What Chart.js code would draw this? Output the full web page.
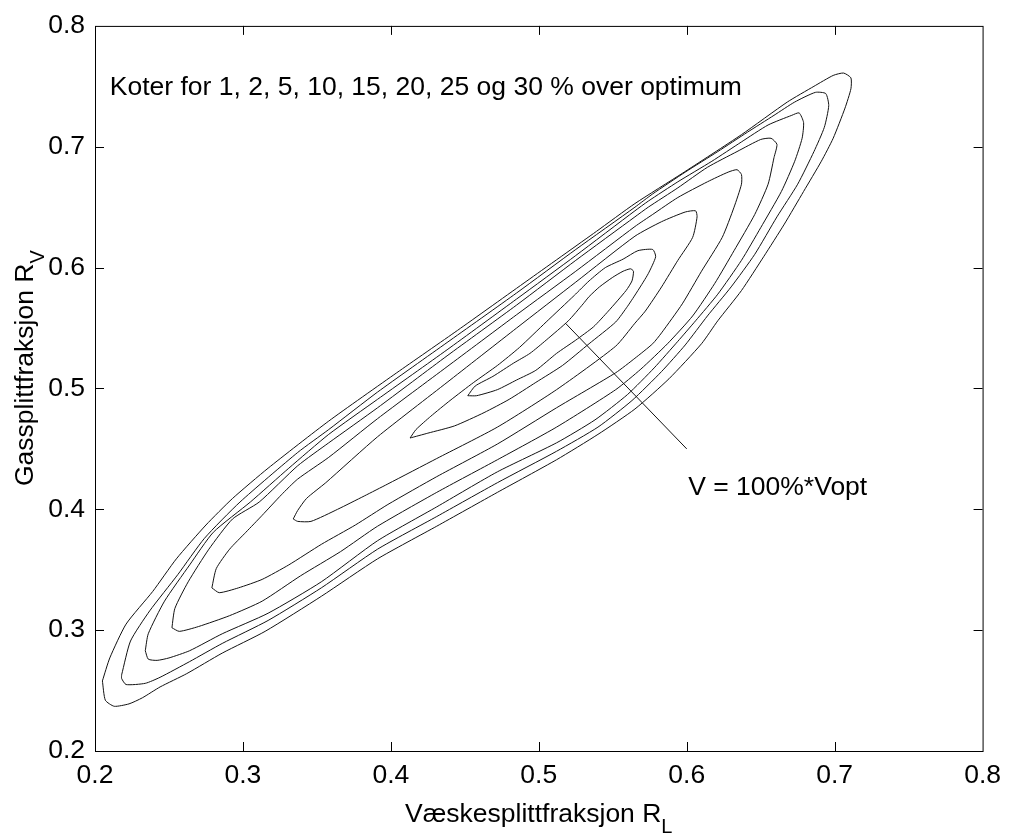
<!DOCTYPE html>
<html>
<head>
<meta charset="utf-8">
<script src="https://cdn.jsdelivr.net/npm/chart.js@4/dist/chart.umd.min.js"></script>
<style>
  body { margin: 0; background: #fff; }
  canvas { display: block; }
</style>
</head>
<body>
<canvas id="contours" width="1010" height="835"></canvas>
<script>
const xTicks = [0.2, 0.3, 0.4, 0.5, 0.6, 0.7, 0.8];
const xTickLabels = ['0.2', '0.3', '0.4', '0.5', '0.6', '0.7', '0.8'];
const yTicks = [0.2, 0.3, 0.4, 0.5, 0.6, 0.7, 0.8];
const yTickLabels = ['0.2', '0.3', '0.4', '0.5', '0.6', '0.7', '0.8'];

// contour levels, % over optimum volume
const levels = [1, 2, 5, 10, 15, 20, 25, 30];

// each contour as [R_L, R_V] points, closed loop
const kote1 = [
    [0.452, 0.494], [0.457, 0.502], [0.469, 0.510], [0.483, 0.521], [0.494, 0.529], [0.505, 0.540],
    [0.520, 0.556], [0.530, 0.570], [0.534, 0.576], [0.541, 0.584], [0.550, 0.592], [0.557, 0.597],
    [0.562, 0.599], [0.564, 0.597], [0.563, 0.589], [0.559, 0.581], [0.547, 0.564], [0.537, 0.551],
    [0.525, 0.540], [0.512, 0.529], [0.498, 0.515], [0.485, 0.507], [0.472, 0.499], [0.458, 0.494],
    [0.452, 0.494],
];
const kote2 = [
    [0.413, 0.459], [0.417, 0.466], [0.427, 0.477], [0.440, 0.490], [0.456, 0.505], [0.472, 0.519],
    [0.487, 0.534], [0.505, 0.555], [0.524, 0.577], [0.534, 0.589], [0.545, 0.600], [0.557, 0.607],
    [0.567, 0.614], [0.577, 0.615], [0.579, 0.609], [0.574, 0.595], [0.567, 0.581], [0.560, 0.568],
    [0.552, 0.555], [0.534, 0.537], [0.516, 0.519], [0.498, 0.505], [0.480, 0.491], [0.463, 0.480],
    [0.443, 0.469], [0.425, 0.463], [0.413, 0.459],
];
const kote3 = [
    [0.334, 0.392], [0.337, 0.399], [0.343, 0.409], [0.356, 0.422], [0.391, 0.460], [0.438, 0.505],
    [0.485, 0.550], [0.525, 0.588], [0.565, 0.626], [0.583, 0.638], [0.599, 0.646], [0.606, 0.647],
    [0.607, 0.642], [0.604, 0.625], [0.594, 0.606], [0.583, 0.584], [0.572, 0.564], [0.565, 0.554],
    [0.552, 0.535], [0.512, 0.499], [0.472, 0.468], [0.431, 0.442], [0.398, 0.421], [0.382, 0.411],
    [0.364, 0.400], [0.346, 0.390], [0.337, 0.390], [0.334, 0.392],
];
const kote4 = [
    [0.279, 0.335], [0.282, 0.351], [0.291, 0.367], [0.302, 0.381], [0.313, 0.395], [0.326, 0.412],
    [0.337, 0.425], [0.358, 0.443], [0.391, 0.475], [0.438, 0.518], [0.485, 0.561], [0.525, 0.597],
    [0.565, 0.634], [0.577, 0.644], [0.594, 0.658], [0.614, 0.671], [0.628, 0.679], [0.634, 0.681],
    [0.637, 0.677], [0.637, 0.669], [0.632, 0.650], [0.624, 0.625], [0.610, 0.597], [0.597, 0.570],
    [0.583, 0.546], [0.577, 0.537], [0.565, 0.525], [0.552, 0.513], [0.512, 0.484], [0.472, 0.454],
    [0.431, 0.427], [0.398, 0.404], [0.376, 0.387], [0.353, 0.371], [0.331, 0.354], [0.313, 0.342],
    [0.297, 0.335], [0.284, 0.331], [0.279, 0.335],
];
const kote5 = [
    [0.252, 0.302], [0.254, 0.318], [0.263, 0.340], [0.277, 0.367], [0.293, 0.392], [0.311, 0.406],
    [0.337, 0.436], [0.358, 0.455], [0.391, 0.484], [0.438, 0.527], [0.485, 0.569], [0.525, 0.606],
    [0.565, 0.642], [0.574, 0.650], [0.594, 0.666], [0.614, 0.683], [0.634, 0.696], [0.650, 0.706],
    [0.657, 0.707], [0.661, 0.702], [0.659, 0.691], [0.655, 0.669], [0.646, 0.644], [0.632, 0.614],
    [0.619, 0.587], [0.604, 0.560], [0.587, 0.537], [0.569, 0.516], [0.552, 0.499], [0.512, 0.468],
    [0.472, 0.441], [0.431, 0.414], [0.391, 0.386], [0.366, 0.365], [0.339, 0.345], [0.313, 0.324],
    [0.291, 0.312], [0.270, 0.303], [0.257, 0.299], [0.252, 0.302],
];
const kote6 = [
    [0.234, 0.283], [0.236, 0.297], [0.247, 0.324], [0.264, 0.354], [0.280, 0.381], [0.305, 0.406],
    [0.331, 0.434], [0.358, 0.462], [0.391, 0.491], [0.438, 0.532], [0.485, 0.574], [0.525, 0.610],
    [0.565, 0.647], [0.574, 0.655], [0.594, 0.671], [0.617, 0.688], [0.637, 0.704], [0.655, 0.718],
    [0.671, 0.726], [0.676, 0.728], [0.679, 0.720], [0.678, 0.707], [0.673, 0.688], [0.664, 0.663],
    [0.650, 0.633], [0.637, 0.606], [0.621, 0.578], [0.606, 0.556], [0.594, 0.539], [0.578, 0.517],
    [0.560, 0.495], [0.538, 0.474], [0.512, 0.455], [0.472, 0.431], [0.431, 0.402], [0.391, 0.374],
    [0.353, 0.340], [0.317, 0.314], [0.286, 0.297], [0.264, 0.283], [0.250, 0.277], [0.242, 0.275],
    [0.236, 0.276], [0.234, 0.283],
];
const kote7 = [
    [0.218, 0.263], [0.224, 0.291], [0.237, 0.316], [0.256, 0.346], [0.274, 0.376], [0.298, 0.406],
    [0.337, 0.447], [0.358, 0.466], [0.391, 0.497], [0.438, 0.538], [0.485, 0.579], [0.525, 0.615],
    [0.565, 0.650], [0.577, 0.661], [0.599, 0.679], [0.621, 0.696], [0.641, 0.712], [0.659, 0.726],
    [0.673, 0.737], [0.687, 0.745], [0.694, 0.744], [0.696, 0.734], [0.693, 0.716], [0.686, 0.696],
    [0.675, 0.669], [0.661, 0.642], [0.646, 0.611], [0.630, 0.584], [0.614, 0.560], [0.599, 0.536],
    [0.583, 0.514], [0.563, 0.490], [0.540, 0.468], [0.512, 0.448], [0.472, 0.422], [0.431, 0.394],
    [0.391, 0.367], [0.353, 0.335], [0.317, 0.308], [0.286, 0.289], [0.264, 0.274], [0.244, 0.261],
    [0.234, 0.256], [0.221, 0.255], [0.218, 0.260], [0.218, 0.263],
];
const kote8 = [
    [0.205, 0.258], [0.210, 0.277], [0.221, 0.305], [0.239, 0.332], [0.255, 0.359], [0.275, 0.387],
    [0.293, 0.409], [0.317, 0.434], [0.358, 0.473], [0.404, 0.513], [0.445, 0.548], [0.492, 0.589],
    [0.539, 0.630], [0.565, 0.653], [0.597, 0.678], [0.637, 0.710], [0.668, 0.737], [0.686, 0.750],
    [0.699, 0.759], [0.706, 0.761], [0.711, 0.757], [0.711, 0.748], [0.707, 0.732], [0.699, 0.707],
    [0.691, 0.688], [0.679, 0.663], [0.666, 0.636], [0.652, 0.609], [0.637, 0.581], [0.621, 0.556],
    [0.610, 0.537], [0.588, 0.508], [0.565, 0.483], [0.540, 0.462], [0.512, 0.441], [0.472, 0.414],
    [0.431, 0.386], [0.391, 0.359], [0.353, 0.328], [0.315, 0.299], [0.286, 0.281], [0.262, 0.264],
    [0.244, 0.253], [0.232, 0.244], [0.223, 0.239], [0.213, 0.237], [0.207, 0.242], [0.205, 0.258],
];
const koter = [kote1, kote2, kote3, kote4, kote5, kote6, kote7, kote8];

// pointer from the optimum region to its label
const pointerX = [0.518, 0.600];
const pointerY = [0.554, 0.450];

const FONT = 'Liberation Sans, Arial, Helvetica, sans-serif';
const TICK_LEN = 9;

const koterText = `Koter for ${levels.slice(0, -1).join(', ')} og ${levels[levels.length - 1]} % over optimum`;

const frame = {
    id: 'frame',
    afterDatasetsDraw(chart) {
        const { ctx, chartArea: { left, top, right, bottom }, scales: { x, y } } = chart;
        ctx.save();
        ctx.strokeStyle = '#000';
        ctx.lineWidth = 1;
        ctx.strokeRect(left + 0.5, top + 0.5, right - left, bottom - top);
        ctx.beginPath();
        for (const v of xTicks.slice(1, -1)) {
            const px = Math.round(x.getPixelForValue(v)) + 0.5;
            ctx.moveTo(px, bottom);
            ctx.lineTo(px, bottom - TICK_LEN);
            ctx.moveTo(px, top);
            ctx.lineTo(px, top + TICK_LEN);
        }
        for (const v of yTicks.slice(1, -1)) {
            const py = Math.round(y.getPixelForValue(v)) + 0.5;
            ctx.moveTo(left, py);
            ctx.lineTo(left + TICK_LEN, py);
            ctx.moveTo(right, py);
            ctx.lineTo(right - TICK_LEN, py);
        }
        ctx.stroke();
        ctx.restore();
    },
};

const labels = {
    id: 'labels',
    afterDraw(chart) {
        const { ctx, chartArea: { left, right }, scales: { x, y } } = chart;
        ctx.save();
        ctx.fillStyle = '#000';
        ctx.textBaseline = 'alphabetic';
        ctx.textAlign = 'left';

        // text inside the axes
        ctx.font = `26.5px ${FONT}`;
        ctx.fillText(koterText, x.getPixelForValue(0.21), y.getPixelForValue(0.743));
        ctx.fillText('V = 100%*Vopt', x.getPixelForValue(0.601), y.getPixelForValue(0.412));

        // x title with subscript L
        const xMain = 'Væskesplittfraksjon R';
        ctx.font = `26.5px ${FONT}`;
        const w1 = ctx.measureText(xMain).width;
        ctx.font = `20px ${FONT}`;
        const w2 = ctx.measureText('L').width;
        const x0 = (left + right) / 2 - (w1 + w2) / 2;
        ctx.font = `26.5px ${FONT}`;
        ctx.fillText(xMain, x0, 822);
        ctx.font = `20px ${FONT}`;
        ctx.fillText('L', x0 + w1, 833);

        // y title with subscript V
        ctx.translate(33, 486);
        ctx.rotate(-Math.PI / 2);
        const yMain = 'Gassplittfraksjon R';
        ctx.font = `26.5px ${FONT}`;
        ctx.fillText(yMain, 0, 0);
        const w3 = ctx.measureText(yMain).width;
        ctx.font = `20px ${FONT}`;
        ctx.fillText('V', w3, 11);
        ctx.restore();
    },
};

const datasets = koter.map((points, i) => ({
    label: `${levels[i]} %`,
    data: points.map(([x, y]) => ({ x, y })),
    showLine: true,
    fill: false,
    pointRadius: 0,
    borderColor: '#111',
    borderWidth: 1,
    tension: 0.2,
}));
datasets.push({
    label: 'pointer',
    data: pointerX.map((x, i) => ({ x, y: pointerY[i] })),
    showLine: true,
    fill: false,
    pointRadius: 0,
    borderColor: '#111',
    borderWidth: 1,
});

new Chart(document.getElementById('contours'), {
    type: 'scatter',
    data: { datasets },
    options: {
        responsive: false,
        animation: false,
        devicePixelRatio: 1,
        layout: { padding: { top: 20, right: 20, bottom: 0, left: 0 } },
        plugins: { legend: { display: false }, tooltip: { enabled: false } },
        scales: {
            x: {
                type: 'linear',
                position: 'bottom',
                min: 0.2,
                max: 0.8,
                grid: { display: false, drawTicks: false },
                border: { display: false },
                afterBuildTicks: (scale) => {
                    scale.ticks = xTicks.map((value) => ({ value }));
                },
                afterFit: (scale) => {
                    scale.height = 84;
                },
                ticks: {
                    autoSkip: false,
                    maxRotation: 0,
                    padding: 9,
                    color: '#000',
                    font: { family: FONT, size: 26.5 },
                    callback: (value, index) => xTickLabels[index],
                },
            },
            y: {
                type: 'linear',
                position: 'left',
                min: 0.2,
                max: 0.8,
                grid: { display: false, drawTicks: false },
                border: { display: false },
                afterBuildTicks: (scale) => {
                    scale.ticks = yTicks.map((value) => ({ value }));
                },
                afterFit: (scale) => {
                    scale.width = 95;
                },
                ticks: {
                    autoSkip: false,
                    padding: 10,
                    color: '#000',
                    font: { family: FONT, size: 26.5 },
                    callback: (value, index) => yTickLabels[index],
                },
            },
        },
    },
    plugins: [frame, labels],
});
</script>
</body>
</html>
